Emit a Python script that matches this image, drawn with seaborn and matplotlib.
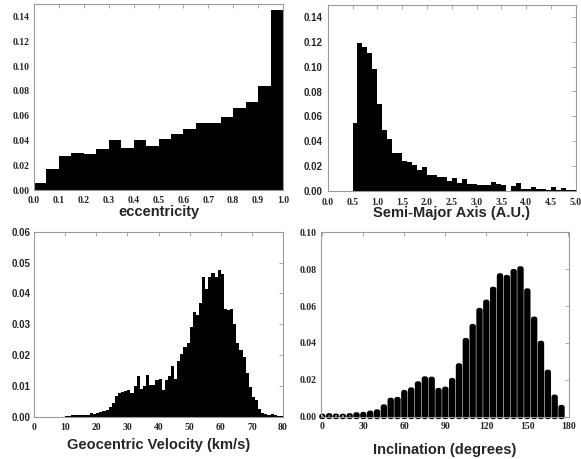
import numpy as np
import pandas as pd
import matplotlib
matplotlib.use("Agg")
import matplotlib.pyplot as plt
import seaborn as sns

# ---- histogram data (normalised fractions per bin) ----
ecc_bin_width = 0.05
ecc_fraction = [0.0054, 0.0166, 0.0274, 0.0298, 0.0290, 0.0327, 0.0402, 0.0340,
                0.0405, 0.0357, 0.0408, 0.0448, 0.0490, 0.0539, 0.0544, 0.0585,
                0.0660, 0.0713, 0.0839, 0.1448]

sma_start = 0.5
sma_bin_width = 0.1
sma_fraction = [0.0544, 0.1190, 0.1157, 0.1110, 0.0980, 0.0697, 0.0490, 0.0415,
                0.0301, 0.0300, 0.0240, 0.0234, 0.0207, 0.0170, 0.0188, 0.0129,
                0.0129, 0.0108, 0.0108, 0.0078, 0.0100, 0.0060, 0.0093, 0.0054,
                0.0054, 0.0043, 0.0048, 0.0047, 0.0068, 0.0056, 0.0046, 0.0000,
                0.0041, 0.0060, 0.0010, 0.0016, 0.0027, 0.0013, 0.0010, 0.0005,
                0.0032, 0.0007, 0.0025, 0.0008, 0.0005]

vg_bin_width = 1.0
vg_fraction = [0, 0, 0, 0, 0, 0, 0, 0, 0, 0,
               0.0002, 0.0003, 0.0004, 0.0006, 0.0006, 0.0006, 0.0005, 0.0006, 0.0011, 0.0008,
               0.0012, 0.0015, 0.0020, 0.0023, 0.0030, 0.0043, 0.0067, 0.0076, 0.0079, 0.0084,
               0.0086, 0.0078, 0.0100, 0.0132, 0.0091, 0.0100, 0.0134, 0.0102, 0.0104, 0.0119,
               0.0121, 0.0086, 0.0119, 0.0131, 0.0164, 0.0123, 0.0180, 0.0203, 0.0227, 0.0240,
               0.0292, 0.0341, 0.0329, 0.0369, 0.0454, 0.0414, 0.0454, 0.0466, 0.0452, 0.0476,
               0.0464, 0.0348, 0.0345, 0.0348, 0.0300, 0.0238, 0.0215, 0.0195, 0.0142, 0.0096,
               0.0065, 0.0054, 0.0024, 0.0012, 0.0008, 0.0006, 0.0008, 0.0005, 0.0003, 0.0001]

inc_bin_width = 5.0
inc_fraction = [0.0003, 0.0006, 0.0004, 0.0003, 0.0006, 0.0011, 0.0013, 0.0020,
                0.0027, 0.0054, 0.0090, 0.0094, 0.0132, 0.0146, 0.0179, 0.0206,
                0.0204, 0.0143, 0.0150, 0.0197, 0.0277, 0.0414, 0.0490, 0.0577,
                0.0622, 0.0692, 0.0765, 0.0756, 0.0788, 0.0803, 0.0683, 0.0530,
                0.0399, 0.0242, 0.0107, 0.0051]

# ---- tables built from the arrays ----
ecc_edges = [float(b) for b in np.arange(len(ecc_fraction) + 1) * ecc_bin_width]
ecc_df = pd.DataFrame({"e": np.array(ecc_edges[:-1]) + ecc_bin_width / 2, "f": ecc_fraction})

sma_edges = [float(b) for b in sma_start + np.arange(len(sma_fraction) + 1) * sma_bin_width]
sma_df = pd.DataFrame({"a": np.array(sma_edges[:-1]) + sma_bin_width / 2, "f": sma_fraction})

vg_edges = [float(b) for b in np.arange(len(vg_fraction) + 1) * vg_bin_width]
vg_df = pd.DataFrame({"v": np.array(vg_edges[:-1]) + vg_bin_width / 2, "f": vg_fraction})

inc_pos = np.arange(len(inc_fraction)) * inc_bin_width
inc_edges = [float(b) for b in np.append(inc_pos - inc_bin_width / 2,
                                         inc_pos[-1] + inc_bin_width / 2)]
inc_df = pd.DataFrame({"i": inc_pos, "f": inc_fraction})

# ---- style ----
sns.set_style("white")
SERIF = "Liberation Serif"
SANS = "Liberation Sans"
plt.rcParams["font.family"] = [SANS, "DejaVu Sans"]
FRAME = "#9a9a9a"

fig = plt.figure(figsize=(5.81, 4.59), dpi=100)
W, H = 581.0, 459.0


def px_axes(left, top, right, bottom):
    return fig.add_axes([left / W, 1 - bottom / H, (right - left) / W, (bottom - top) / H])


ax_e = px_axes(34, 4, 283, 190)
ax_a = px_axes(327.7, 4.7, 575.7, 190.7)
ax_v = px_axes(34, 231.7, 283, 416.7)
ax_i = px_axes(321, 232.3, 569, 416.7)

fill_kw = dict(element="step", fill=True, color="black", alpha=1, linewidth=0, stat="count")

sns.histplot(data=ecc_df, x="e", weights="f", bins=ecc_edges, ax=ax_e, **fill_kw)
sns.histplot(data=sma_df, x="a", weights="f", bins=sma_edges, ax=ax_a, **fill_kw)
sns.histplot(data=vg_df, x="v", weights="f", bins=vg_edges, ax=ax_v, **fill_kw)
# inclination bars: narrow bars with a thick round-joined outline -> rounded columns
sns.histplot(data=inc_df, x="i", weights="f", bins=inc_edges, ax=ax_i,
             shrink=0.22, color="black", edgecolor="black", alpha=1,
             linewidth=3.5, joinstyle="round", clip_on=False, snap=False)


def style_axes(ax, xlim, ylim, xticks, yticks, xfmt, yfmt, yfont, ypad, xpad,
               xlabel, label_y):
    ax.set_xlim(*xlim)
    ax.set_ylim(*ylim)
    ax.set_xticks(xticks)
    ax.set_yticks(yticks)
    ax.set_xticklabels([xfmt.format(t) for t in xticks], family=SERIF,
                       fontweight="bold", fontsize=7)
    ax.set_yticklabels([yfmt.format(t) for t in yticks], family=yfont,
                       fontweight="bold", fontsize=7)
    ax.tick_params(axis="both", direction="in", length=3, width=0.6, color=FRAME,
                   top=True, right=True, bottom=False, left=False)
    ax.tick_params(axis="x", pad=xpad)
    ax.tick_params(axis="y", pad=ypad)
    for s in ax.spines.values():
        s.set_color(FRAME)
        s.set_linewidth(0.8)
        s.set_visible(True)
    ax.set_ylabel("")
    ax.set_xlabel(xlabel, family=SANS, fontweight="bold", fontsize=10.5)
    ax.xaxis.set_label_coords(0.5, label_y)
    ax.xaxis.label.set_va("center")
    ax.set_facecolor("white")
    ax.grid(False)


style_axes(ax_e, (0, 1.0), (0, 0.15), np.arange(0, 1.01, 0.1), np.arange(0, 0.141, 0.02),
           "{:.1f}", "{:.2f}", SERIF, 3.4, 4.5, "eccentricity", -0.12)
style_axes(ax_a, (0, 5.0), (0, 0.15), np.arange(0, 5.01, 0.5), np.arange(0, 0.141, 0.02),
           "{:.1f}", "{:.2f}", SANS, 4.0, 5, "Semi-Major Axis (A.U.)", -0.12)
style_axes(ax_v, (0, 80), (0, 0.06), np.arange(0, 81, 10), np.arange(0, 0.061, 0.01),
           "{:.0f}", "{:.2f}", SANS, 2.4, 4.5, "Geocentric Velocity (km/s)", -0.155)
style_axes(ax_i, (-1, 180.5), (0, 0.10), np.arange(0, 181, 30), np.arange(0, 0.101, 0.02),
           "{:.0f}", "{:.2f}", SERIF, 3.4, 4, "Inclination (degrees)", -0.18)

fig.savefig("out.png", dpi=100, facecolor="white")
